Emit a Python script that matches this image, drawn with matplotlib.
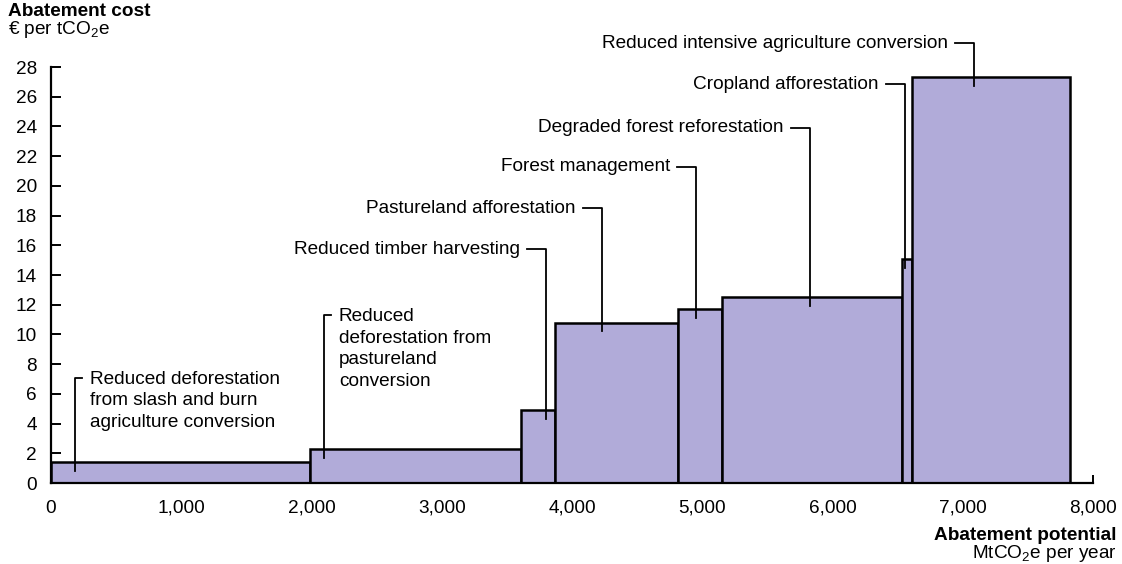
import numpy as np
import matplotlib.pyplot as plt

plt.rcParams['font.family'] = ['Liberation Sans', 'DejaVu Sans']
plt.rcParams['mathtext.fontset'] = 'custom'
plt.rcParams['mathtext.rm'] = 'Liberation Sans'
plt.rcParams['mathtext.it'] = 'Liberation Sans'
plt.rcParams['mathtext.bf'] = 'Liberation Sans:bold'

# abatement levers, left to right
levers = ["Reduced deforestation\nfrom slash and burn\nagriculture conversion",
          "Reduced\ndeforestation from\npastureland\nconversion",
          "Reduced timber harvesting",
          "Pastureland afforestation",
          "Forest management",
          "Degraded forest reforestation",
          "Cropland afforestation",
          "Reduced intensive agriculture conversion"]
potential = [1990, 1620, 260, 940, 340, 1380, 80, 1210]   # MtCO2e per year (bar widths)
cost = [1.4, 2.3, 4.9, 10.8, 11.7, 12.5, 15.1, 27.3]      # EUR per tCO2e (bar heights)

xticks = [0, 1000, 2000, 3000, 4000, 5000, 6000, 7000, 8000]
yticks = list(range(0, 29, 2))

# label layout: leader line x, leader top y, side of text
lead_x = [185, 2097, 3802, 4232, 4954, 5829, 6559, 7089]
lead_y = [7.1, 11.3, 15.75, 18.5, 21.3, 23.9, 26.85, 29.6]
side = ['r', 'r', 'l', 'l', 'l', 'l', 'l', 'l']

fs = 13.7

fig = plt.figure(figsize=(11.22, 5.64), dpi=100)
ax = fig.add_axes([51/1122, 1-483/564, 1042/1122, 416/564])

lefts = np.concatenate([[0], np.cumsum(potential)[:-1]])
ax.bar(lefts, cost, width=potential, align='edge', color='#b1abd9',
       edgecolor='black', linewidth=1.8, zorder=2)

hl = 150
for i in range(len(levers)):
    lx, ly = lead_x[i], lead_y[i]
    ybot = cost[i] - 0.6
    if side[i] == 'r':
        ax.plot([lx + 50, lx, lx], [ly, ly, ybot], color='black', lw=1.3,
                clip_on=False, zorder=3)
        ax.annotate(levers[i], (lx + 50, ly), xytext=(6, 5), textcoords='offset points',
                    ha='left', va='top', fontsize=fs, linespacing=1.35,
                    annotation_clip=False)
    else:
        ax.plot([lx - hl, lx, lx], [ly, ly, ybot], color='black', lw=1.3,
                clip_on=False, zorder=3)
        ax.annotate(levers[i], (lx - hl, ly), xytext=(-5, 0), textcoords='offset points',
                    ha='right', va='center', fontsize=fs, annotation_clip=False)

ax.set_xlim(0, 8000)
ax.set_ylim(0, 28)
for s in ['top', 'right']:
    ax.spines[s].set_visible(False)
ax.spines['left'].set_linewidth(1.6)
ax.spines['bottom'].set_linewidth(1.6)

ax.set_xticks(xticks)
ax.set_xticklabels(['0' if v == 0 else f"{v:,}" for v in xticks])
ax.set_xticks(np.arange(500, 8000, 1000), minor=True)
ax.set_yticks(yticks)
ax.tick_params(axis='x', which='both', direction='in', length=6, width=1.4,
               pad=12, labelsize=fs)
ax.tick_params(axis='y', direction='in', length=7, width=1.4, pad=10, labelsize=fs)

fig.text(8/1122, 1-3/564, "Abatement cost", fontsize=fs, fontweight='bold',
         ha='left', va='top')
fig.text(8/1122, 1-30/564, r"€ per tCO$_2$e", fontsize=fs, ha='left', va='center')
fig.text(1117/1122, 1-535/564, "Abatement potential", fontsize=fs, fontweight='bold',
         ha='right', va='center')
fig.text(1117/1122, 1-554/564, r"MtCO$_2$e per year", fontsize=fs,
         ha='right', va='center')

fig.savefig('out.png', dpi=100)
